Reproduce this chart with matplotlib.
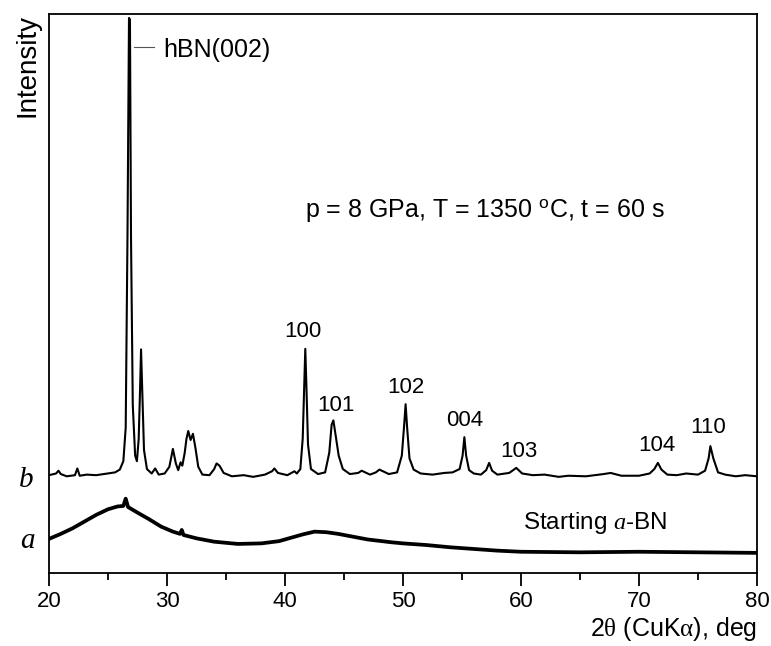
import matplotlib
matplotlib.use("Agg")
import matplotlib.pyplot as plt

plt.rcParams['font.family'] = ['Liberation Sans', 'DejaVu Sans']
plt.rcParams['mathtext.fontset'] = 'custom'
plt.rcParams['mathtext.rm'] = 'Liberation Serif'
plt.rcParams['mathtext.sf'] = 'Liberation Sans'
plt.rcParams['mathtext.it'] = 'Liberation Serif:italic'

# ---- data: sample b (p = 8 GPa, T = 1350 C, t = 60 s) ----
b_two_theta = [20.0, 20.6, 20.8, 21.0, 21.5, 22.2, 22.4, 22.6, 23.2, 24.0, 25.0, 25.6, 26.0, 26.3,
               26.5, 26.65, 26.78, 26.86, 26.95, 27.1, 27.3, 27.45, 27.6, 27.72, 27.8, 27.9,
               28.05, 28.3, 28.7, 29.0, 29.3, 29.8, 30.2, 30.5, 30.75, 30.95, 31.15, 31.3,
               31.5, 31.65, 31.8, 32.0, 32.2, 32.4, 32.65, 33.0, 33.6, 34.0, 34.2, 34.45,
               34.8, 35.5, 36.5, 37.3, 38.3, 38.9, 39.1, 39.4, 40.2, 40.8, 41.0, 41.3, 41.5,
               41.62, 41.72, 41.82, 41.95, 42.2, 42.8, 43.4, 43.75, 43.95, 44.1, 44.3, 44.55,
               44.9, 45.5, 46.2, 46.5, 47.2, 47.7, 48.0, 48.8, 49.5, 49.9, 50.1, 50.22, 50.35,
               50.55, 50.9, 51.5, 52.5, 53.5, 54.2, 54.8, 55.05, 55.2, 55.35, 55.6, 56.0,
               56.6, 57.05, 57.3, 57.55, 58.0, 59.0, 59.6, 60.1, 61.0, 62.0, 63.2, 64.0, 65.5,
               67.0, 67.6, 68.5, 70.0, 70.9, 71.3, 71.6, 71.9, 72.4, 73.2, 74.0, 75.0, 75.6,
               75.9, 76.05, 76.3, 76.7, 77.3, 78.2, 79.0, 80.0]
b_intensity = [17.5, 17.8, 18.3, 17.7, 17.3, 17.5, 18.7, 17.4, 17.6, 17.5, 17.8, 18.0, 18.5, 20.0,
               26.0, 60.0, 99.3, 99.0, 60.0, 30.0, 21.0, 20.0, 24.0, 33.0, 40.0, 33.0,
               22.0, 18.6, 17.8, 18.7, 17.6, 17.8, 19.0, 22.2, 19.6, 18.4, 19.8, 19.2,
               21.5, 24.0, 25.4, 23.8, 24.9, 22.5, 19.0, 17.6, 17.5, 18.6, 19.6, 19.2,
               17.9, 17.3, 17.5, 17.2, 17.6, 18.2, 18.7, 17.9, 17.5, 18.2, 17.8, 18.6, 24.0,
               33.0, 40.1, 33.0, 23.0, 18.6, 17.7, 18.0, 21.5, 26.5, 27.3, 24.5, 21.0,
               18.6, 17.7, 17.9, 18.3, 17.6, 18.0, 18.5, 17.7, 18.0, 21.0, 26.5, 30.2, 26.0,
               20.5, 18.5, 17.8, 17.6, 17.9, 18.0, 18.6, 21.0, 24.3, 21.0, 18.4, 17.8,
               17.6, 18.4, 19.7, 18.3, 17.6, 17.9, 18.8, 17.8, 17.5, 17.6, 17.2, 17.4, 17.3,
               17.7, 17.9, 17.4, 17.4, 17.8, 18.6, 19.7, 18.5, 17.6, 17.5, 17.8, 17.6, 18.3,
               20.5, 22.7, 20.5, 18.0, 17.6, 17.3, 17.5, 17.3]

# ---- data: sample a (starting a-BN) ----
a_two_theta = [20.0, 21.0, 22.0, 23.0, 24.0, 25.0, 25.8, 26.3, 26.5, 26.7, 27.5, 28.5, 29.5, 30.5,
               31.1, 31.25, 31.4, 32.5, 34.0, 36.0, 38.0, 39.5, 40.5, 41.5, 42.5, 43.5, 44.5,
               45.5, 47.0, 49.0, 50.0, 52.0, 54.0, 56.0, 58.0, 60.0, 65.0, 70.0, 75.0, 80.0]
a_intensity = [6.1, 7.0, 8.0, 9.2, 10.4, 11.4, 11.9, 12.0, 13.3, 11.8, 10.8, 9.6, 8.3, 7.4,
               7.0, 7.7, 6.8, 6.2, 5.6, 5.2, 5.3, 5.7, 6.3, 6.9, 7.4, 7.3, 7.0,
               6.6, 6.0, 5.5, 5.3, 5.0, 4.6, 4.3, 4.0, 3.8, 3.7, 3.8, 3.7, 3.6]

# ---- peak labels (Miller indices) ----
peak_labels = ["100", "101", "102", "004", "103", "104", "110"]
peak_label_x = [41.5, 44.3, 50.25, 55.25, 59.8, 71.5, 75.9]
peak_label_y = [42.2, 29.0, 32.2, 26.3, 20.8, 21.8, 25.0]

x_ticks = [20, 30, 40, 50, 60, 70, 80]

fig = plt.figure(figsize=(7.71, 6.46), dpi=100)
ax = fig.add_axes([49 / 771, 73 / 646, 708 / 771, 559 / 646])

ax.plot(b_two_theta, b_intensity, color='black', lw=1.5)
ax.plot(a_two_theta, a_intensity, color='black', lw=2.7)

ax.set_xlim(20, 80)
ax.set_ylim(0, 100)
ax.set_xticks(x_ticks)
ax.set_xticks([25, 35, 45, 55, 65, 75], minor=True)
ax.set_yticks([])
ax.tick_params(axis='x', which='major', direction='out', length=9, width=1.3, labelsize=16, pad=4)
ax.tick_params(axis='x', which='minor', direction='out', length=5, width=1.3)
for s in ax.spines.values():
    s.set_linewidth(1.3)

ax.set_ylabel("Intensity", fontsize=20, loc='top', labelpad=6)
ax.set_xlabel(r"2$\mathrm{\theta}$ (CuK$\mathrm{\alpha}$), deg", fontsize=18, loc='right', labelpad=2)

# hBN(002) leader + label
ax.plot([27.2, 28.9], [94.1, 94.1], color='#555555', lw=0.8)
ax.text(29.66, 92.3, "hBN(002)", fontsize=18, va='baseline', ha='left')

ax.text(41.7, 63.5, r"p = 8 GPa, T = 1350 $^{\mathsf{o}}$C, t = 60 s", fontsize=18,
        va='baseline', ha='left')

for lab, x, y in zip(peak_labels, peak_label_x, peak_label_y):
    ax.text(x, y, lab, fontsize=16, ha='center', va='baseline')

ax.text(60.2, 7.9, r"Starting $\mathit{a}$-BN", fontsize=17.5, ha='left', va='baseline')

ax.text(18.1, 15.4, "b", family='Liberation Serif', style='italic', fontsize=21,
        ha='center', va='baseline', clip_on=False)
ax.text(18.2, 4.5, "a", family='Liberation Serif', style='italic', fontsize=21,
        ha='center', va='baseline', clip_on=False)

fig.savefig("out.png", dpi=100)
